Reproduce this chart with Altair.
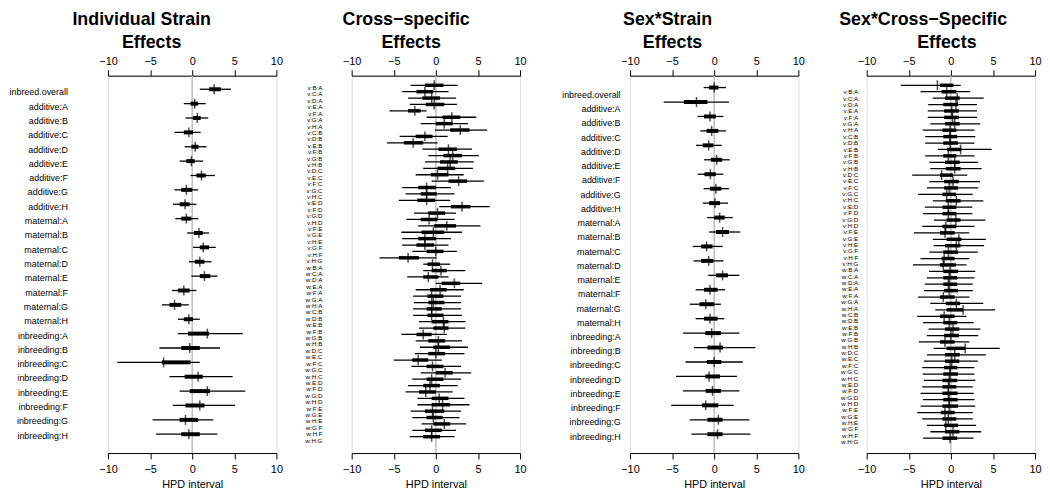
import altair as alt
import pandas as pd

LETTERS = "ABCDEFGH"
strain_labels = (["inbreed.overall"] + [f"additive:{c}" for c in LETTERS]
                 + [f"maternal:{c}" for c in LETTERS] + [f"inbreeding:{c}" for c in LETTERS])
pairs = [f"{LETTERS[j]}:{LETTERS[i]}" for i in range(7) for j in range(i + 1, 8)]
cross_labels = [f"v:{p}" for p in pairs] + [f"w:{p}" for p in pairs]

titles = [["Individual Strain", "Effects"], ["Cross\u2212specific", "Effects"],
          ["Sex*Strain", "Effects"], ["Sex*Cross\u2212Specific", "Effects"]]

# ---- Panel 1: Individual Strain Effects ----
p1_lo95 = [0.9, -1.0, -0.8, -2.1, -0.9, -1.5, -0.2, -2.1, -2.3, -2.0, -0.6, 0.1, -0.4, -0.1, -2.4, -3.6, -1.7,
           -1.7, -3.9, -8.9, -2.7, -1.5, -2.3, -4.7, -4.3]
p1_lo68 = [2.0, -0.2, 0.1, -1.0, -0.1, -0.7, 0.5, -1.3, -1.5, -1.3, 0.2, 0.9, 0.3, 0.9, -1.7, -2.7, -1.0,
           -0.5, -1.3, -3.6, -0.9, -0.3, -0.8, -1.5, -1.3]
p1_med = [2.6, 0.3, 0.6, -0.4, 0.35, -0.1, 1.1, -0.7, -0.85, -0.7, 0.8, 1.3, 0.9, 1.45, -1.0, -2.1, -0.4,
          1.8, -0.3, -3.4, 0.7, 1.8, 0.9, -0.8, -0.4]
p1_hi68 = [3.4, 0.7, 1.0, 0.1, 0.75, 0.3, 1.6, 0.0, -0.3, -0.1, 1.25, 2.0, 1.45, 2.15, -0.3, -1.3, 0.1,
           2.0, 0.9, -0.2, 1.25, 2.1, 1.45, 0.7, 0.9]
p1_hi95 = [4.6, 1.6, 1.9, 1.0, 1.7, 1.3, 2.7, 0.7, 0.5, 0.7, 2.0, 2.8, 2.3, 3.0, 0.5, -0.4, 0.9,
           6.0, 3.3, 0.9, 4.8, 6.3, 5.1, 2.5, 3.0]

# ---- Panel 2: Cross-specific Effects ----
p2_lo95 = [-3.0, -4.0, -3.3, -3.1, -5.5, -1.1, -1.8, -0.1, -4.3, -5.8, -1.6, -0.9, -1.3, -1.5, -2.4, -0.5, -4.0, -3.6,
           -4.4, 0.4, -2.6, -3.5, -2.1, -4.1, -4.0, -4.0, -2.8, -6.7,
           -1.5, -1.5, -3.4, 0.0, -2.4, -2.7, -2.6, -2.7, -2.7, -2.0, -2.0, -4.1, -2.4, -1.9, -2.5, -5.0, -2.9, -1.8,
           -2.8, -3.3, -3.6, -2.2, -2.2, -3.0, -2.8, -1.7, -2.8, -3.1]
p2_lo68 = [-1.3, -2.3, -1.6, -1.2, -3.3, 0.8, 0.0, 1.7, -2.4, -3.8, 0.3, 0.9, 0.5, 0.2, -0.6, 1.5, -2.1, -1.8,
           -2.2, 1.8, -0.9, -1.8, -0.2, -1.7, -2.1, -2.3, -1.1, -4.4,
           -1.0, -0.5, -1.5, 0.7, -0.7, -1.0, -0.9, -1.1, -1.0, -0.5, -0.3, -2.3, -0.9, -0.3, -0.9, -2.8, -1.1, 0.0,
           -1.1, -1.5, -2.0, -0.5, -0.5, -1.3, -1.1, -0.3, -1.3, -1.5]
p2_med = [-0.2, -1.3, -0.5, -0.2, -2.5, 1.9, 1.0, 2.9, -1.3, -2.7, 1.5, 2.0, 1.7, 1.4, 0.2, 2.7, -1.1, -1.1,
          -1.1, 3.1, 0.2, -0.8, 1.3, -0.3, -1.3, -1.3, 0.0, -3.3,
          -0.4, 0.6, -0.9, 2.2, 0.5, -0.5, -0.3, -0.5, -0.5, 0.9, 1.0, -1.5, 0.3, 0.3, 0.0, -2.1, -0.4, 1.1,
          -0.5, -0.7, -1.2, 0.4, 0.8, -0.4, -0.3, 1.0, -0.5, -0.5]
p2_hi68 = [0.9, -0.3, 0.5, 1.0, -1.8, 2.9, 2.0, 4.0, -0.4, -1.5, 2.5, 3.1, 2.6, 2.3, 1.5, 3.7, 0.0, 0.1,
           -0.1, 4.1, 1.1, 0.2, 2.4, 1.0, 0.0, -0.2, 0.9, -2.0,
           0.5, 1.3, 0.3, 2.9, 1.3, 0.9, 1.0, 0.7, 0.9, 1.5, 1.5, -0.5, 1.1, 1.7, 1.1, -0.9, 0.9, 2.0,
           0.9, 0.5, 0.0, 1.5, 1.7, 1.0, 0.8, 1.7, 0.7, 0.5]
p2_hi95 = [2.6, 1.5, 2.4, 2.5, -1.1, 4.8, 3.8, 6.1, 1.4, 0.2, 4.3, 5.1, 4.5, 4.4, 3.3, 5.7, 1.8, 2.2,
           1.7, 6.4, 2.4, 2.2, 5.3, 3.1, 1.8, 1.5, 2.5, 0.1,
           1.7, 3.5, 1.5, 5.5, 3.3, 3.0, 3.0, 3.0, 3.1, 3.5, 3.5, 1.3, 3.1, 3.8, 3.4, 0.7, 3.0, 4.2,
           3.0, 2.6, 2.0, 3.4, 4.0, 3.0, 2.8, 3.6, 2.4, 2.2]

# ---- Panel 3: Sex*Strain Effects ----
p3_lo95 = [-1.25, -6.0, -1.95, -1.65, -2.15, -1.2, -1.95, -1.25, -1.35, -0.85, -0.6, -2.55, -2.45, -0.7, -2.2,
           -2.9, -2.2, -3.7, -2.4, -3.4, -4.55, -3.7, -5.1, -2.9, -2.7]
p3_lo68 = [-0.6, -3.6, -1.2, -0.9, -1.35, -0.4, -1.15, -0.5, -0.6, 0.0, 0.2, -1.55, -1.55, 0.2, -1.2,
           -1.75, -1.2, -1.05, -0.8, -0.85, -1.05, -1.0, -1.45, -0.8, -0.8]
p3_med = [0.0, -2.1, -0.5, -0.3, -0.65, 0.3, -0.45, 0.2, 0.1, 0.65, 1.0, -0.9, -0.65, 1.0, -0.5,
          -1.0, -0.5, -0.3, 0.7, 0.0, -0.6, -0.2, -1.0, 0.5, 0.4]
p3_hi68 = [0.5, -0.8, 0.2, 0.5, -0.1, 0.95, 0.2, 0.85, 0.7, 1.25, 1.75, -0.2, -0.1, 1.65, 0.4,
           0.0, 0.4, 0.8, 1.05, 0.85, 0.7, 0.8, 0.5, 1.0, 1.0]
p3_hi95 = [1.4, 1.75, 1.1, 1.4, 0.9, 1.85, 1.1, 1.75, 1.65, 2.2, 3.1, 1.0, 1.1, 3.0, 1.3,
           0.8, 1.2, 3.0, 4.9, 3.4, 2.7, 3.0, 2.3, 4.2, 4.3]

# ---- Panel 4: Sex*Cross-Specific Effects ----
p4_lo95 = [-5.95, -3.6, -2.15, -2.7, -2.75, -2.75, -2.45, -3.35, -3.05, -3.05, -1.55, -3.05, -2.55, -2.45, -4.6,
           -2.55, -2.85, -3.9, -2.15, -3.1, -3.3, -2.0, -3.4, -4.4, -2.15, -2.05, -2.55, -3.6,
           -4.5, -2.6, -2.85, -3.1, -3.2, -3.9, -2.45, -1.85, -4.0, -3.3, -2.65, -2.85, -3.8, -2.05, -2.85, -3.2,
           -3.4, -3.35, -3.2, -3.4, -3.6, -3.3, -3.6, -4.0, -3.4, -2.85, -2.45, -3.3]
p4_lo68 = [-1.3, -1.1, -0.7, -0.9, -0.8, -0.8, -0.7, -1.0, -0.9, -0.9, -0.45, -0.9, -0.7, -0.6, -1.3,
           -0.8, -0.8, -1.0, -0.6, -1.0, -1.0, -0.5, -1.0, -1.3, -0.5, -0.7, -0.9, -1.1,
           -1.3, -0.9, -0.9, -0.9, -0.8, -1.3, -0.6, -0.5, -1.3, -0.9, -0.7, -0.8, -1.3, -0.5, -0.7, -0.7,
           -0.8, -0.9, -1.0, -1.0, -1.0, -0.9, -1.0, -1.2, -1.0, -0.8, -0.7, -1.0]
p4_med = [-1.6, -0.5, 0.75, 0.6, 0.1, 0.2, 0.45, -0.1, -0.1, -0.1, 1.15, -0.3, 0.45, 0.45, -1.1,
          0.25, -0.2, -0.5, 0.65, -0.3, -0.3, 0.6, -0.6, -0.7, 0.95, 0.65, -0.3, -0.8,
          -0.9, -0.1, -0.2, -0.3, -0.2, -0.9, 0.65, 1.45, -0.8, -0.2, 0.25, 0.0, -0.7, 1.7, 0.45, 0.1,
          -0.1, -0.1, -0.2, -0.3, -0.3, -0.2, -0.2, -0.7, -0.3, -0.6, 0.25, -0.1]
p4_hi68 = [0.3, 0.65, 1.05, 0.85, 0.95, 0.95, 1.05, 0.65, 0.75, 0.85, 1.25, 0.65, 1.05, 1.15, 0.25,
           0.95, 0.85, 0.6, 1.15, 0.65, 0.65, 1.15, 0.65, 0.45, 1.25, 1.15, 0.85, 0.45,
           0.6, 0.85, 0.75, 0.75, 0.85, 0.45, 1.1, 1.45, 0.45, 0.75, 1.0, 0.95, 0.45, 1.7, 1.05, 1.0,
           0.75, 0.85, 0.75, 0.65, 0.8, 0.8, 0.85, 0.45, 0.65, 0.85, 1.0, 0.75]
p4_hi95 = [1.17, 2.3, 3.9, 3.1, 3.1, 3.1, 3.5, 2.8, 2.9, 2.8, 4.85, 2.8, 3.25, 3.65, 1.95,
           3.45, 3.25, 2.6, 3.85, 2.55, 2.55, 4.1, 2.8, 2.2, 4.15, 3.95, 3.2, 2.2,
           1.85, 2.9, 2.8, 2.6, 2.6, 2.2, 3.85, 5.25, 1.85, 2.7, 3.5, 3.25, 2.2, 5.8, 4.15, 3.2,
           2.8, 2.8, 2.9, 2.6, 2.7, 2.8, 2.9, 2.6, 2.6, 3.0, 3.6, 2.7]

FONT = "Liberation Sans"
PLOT_W = 170
PLOT_H = 381
xticks = [-10, -5, 0, 5, 10]


def panel(labels, lo95, lo68, med, hi68, hi95, mark_rng, lab_rng, title_lines, title_x,
          extent, lab_pad, lab_size, lab_font, thick_w, tick_size):
    df = pd.DataFrame({"label": labels, "lo95": lo95, "lo68": lo68, "med": med,
                       "hi68": hi68, "hi95": hi95})
    xs = alt.Scale(domain=[-10, 10], nice=False, zero=False)
    ys = alt.Scale(type="point", range=mark_rng, padding=0)
    yenc = alt.Y("label:N", sort=labels, scale=ys, axis=None)
    top_axis = alt.Axis(orient="top", values=xticks, grid=False, title=None, domainColor="black",
                        domainWidth=1, tickColor="black", tickSize=6, tickWidth=1, labelFont=FONT,
                        labelFontSize=11, labelColor="black", labelPadding=3, labelFlush=False,
                        format="d")
    bot_axis = alt.Axis(orient="bottom", values=xticks, grid=False, title="HPD interval",
                        titleFont=FONT, titleFontSize=11, titleFontWeight="normal", titleColor="black",
                        titlePadding=4, domainColor="black", domainWidth=1, tickColor="black",
                        tickSize=6, tickWidth=1, labelFont=FONT, labelFontSize=11, labelColor="black",
                        labelPadding=5, labelFlush=False, format="d")
    zero = alt.Chart(pd.DataFrame({"z": [0]})).mark_rule(color="#bebebe", strokeWidth=1.5).encode(
        x=alt.X("z:Q", scale=xs, axis=top_axis))
    base = alt.Chart(df)
    thin = base.mark_rule(color="black", strokeWidth=1.3).encode(
        x=alt.X("lo95:Q", scale=xs, axis=bot_axis), x2="hi95:Q", y=yenc)
    thick = base.mark_rule(color="black", strokeWidth=thick_w).encode(
        x=alt.X("lo68:Q", scale=xs, axis=None), x2="hi68:Q", y=yenc)
    tick = base.mark_tick(color="black", orient="vertical", size=tick_size, thickness=1.5).encode(
        x=alt.X("med:Q", scale=xs, axis=None), y=yenc)
    lab = base.mark_point(opacity=0).encode(
        x=alt.value(0),
        y=alt.Y("label:N", sort=labels, scale=alt.Scale(type="point", range=lab_rng, padding=0),
                axis=alt.Axis(orient="left", domain=False, ticks=False, title=None,
                              labelPadding=lab_pad, labelFont=lab_font, labelFontSize=lab_size,
                              labelColor="black", labelOverlap=False, minExtent=extent,
                              maxExtent=extent)))
    t1 = alt.Chart(pd.DataFrame({"t": [title_lines[0]]})).mark_text(
        font=FONT, fontSize=18, fontWeight="bold", color="black", align="center",
        baseline="alphabetic").encode(text="t:N", x=alt.value(title_x[0]), y=alt.value(-51))
    t2 = alt.Chart(pd.DataFrame({"t": [title_lines[1]]})).mark_text(
        font=FONT, fontSize=18, fontWeight="bold", color="black", align="center",
        baseline="alphabetic").encode(text="t:N", x=alt.value(title_x[1]), y=alt.value(-28))
    return alt.layer(zero, thin, thick, tick, lab, t1, t2).resolve_scale(y="independent").resolve_axis(
        x="independent", y="independent").properties(width=PLOT_W, height=PLOT_H)


c1 = panel(strain_labels, p1_lo95, p1_lo68, p1_med, p1_hi68, p1_hi95, [13.7, 362], [16.3, 363],
           titles[0], (34, 44), 99, 41, 9, FONT, 4, 10)
c2 = panel(cross_labels, p2_lo95, p2_lo68, p2_med, p2_hi68, p2_hi95, [9.7, 364.5], [12, 368],
           titles[1], (55, 60), 68, 30, 6.3,
           "Liberation Sans Narrow, Liberation Sans", 3.5, 10)
c3 = panel(strain_labels, p3_lo95, p3_lo68, p3_med, p3_hi68, p3_hi95, [12, 362], [19, 364],
           titles[2], (38, 43), 103, 10, 9, FONT, 4, 10)
c4 = panel(cross_labels, p4_lo95, p4_lo68, p4_med, p4_hi68, p4_hi95, [9.7, 366], [16.3, 369.5],
           titles[3], (57, 81), 61, 9, 6.3,
           "Liberation Sans Narrow, Liberation Sans", 3.5, 10)

chart = alt.hconcat(c1, c2, c3, c4, spacing=0).properties(
    padding={"left": 0, "top": 0, "right": 0, "bottom": 0}).configure_view(
    stroke=None).configure(background="white")

chart.save("out.html", embed_options={"renderer": "svg", "actions": False})
